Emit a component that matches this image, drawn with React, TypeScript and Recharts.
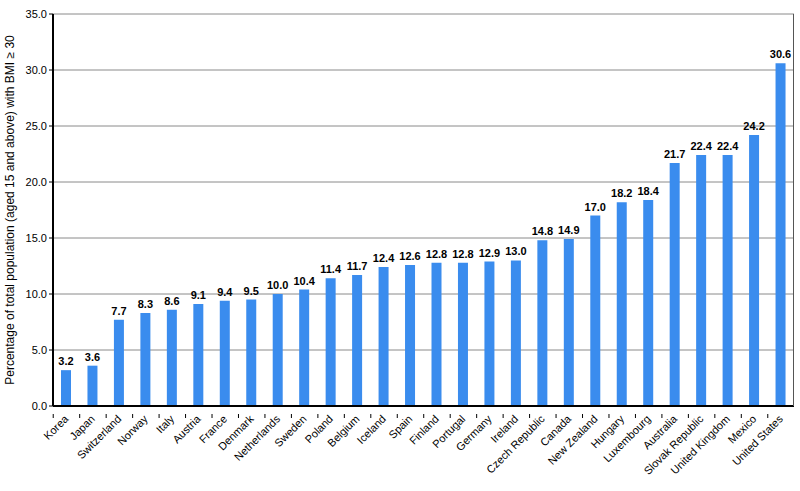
import { BarChart, Bar, XAxis, YAxis, CartesianGrid, LabelList } from "recharts";

const COUNTRIES = [
  "Korea", "Japan", "Switzerland", "Norway", "Italy", "Austria", "France",
  "Denmark", "Netherlands", "Sweden", "Poland", "Belgium", "Iceland", "Spain",
  "Finland", "Portugal", "Germany", "Ireland", "Czech Republic", "Canada",
  "New Zealand", "Hungary", "Luxembourg", "Australia", "Slovak Republic",
  "United Kingdom", "Mexico", "United States",
];

const OBESITY = [
  3.2, 3.6, 7.7, 8.3, 8.6, 9.1, 9.4, 9.5, 10.0, 10.4, 11.4, 11.7, 12.4, 12.6,
  12.8, 12.8, 12.9, 13.0, 14.8, 14.9, 17.0, 18.2, 18.4, 21.7, 22.4, 22.4, 24.2,
  30.6,
];

const Y_TICKS = [0, 5, 10, 15, 20, 25, 30, 35];

const Y_LABEL = "Percentage of total population (aged 15 and above) with BMI \u2265 30";

const FONT = "'Liberation Sans', Arial, sans-serif";
const BAR_COLOR = "#3a8cee";

const chartData = COUNTRIES.map((country, i) => ({ country, value: OBESITY[i] }));

function CountryTick(props: any) {
  const { x, y, payload } = props;
  return (
    <g transform={`translate(${x},${y})`}>
      <line x1={-13} y1={0} x2={-13} y2={4} stroke="#000" />
      <text
        x={-2}
        y={6}
        textAnchor="end"
        transform="rotate(-45)"
        fontSize={11}
        fontFamily={FONT}
        fill="#000"
      >
        {payload.value}
      </text>
    </g>
  );
}

export default function App() {
  return (
    <div style={{ position: "absolute", left: 0, top: 0, background: "#fff" }}>
      <BarChart
        width={800}
        height={491}
        data={chartData}
        margin={{ top: 14, right: 6, left: 0, bottom: 0 }}
        barCategoryGap={0}
      >
        <CartesianGrid vertical={false} stroke="#8a8a8a" />
        <XAxis
          dataKey="country"
          interval={0}
          height={85}
          tick={<CountryTick />}
          tickLine={false}
          axisLine={{ stroke: "#000", strokeWidth: 2 }}
        />
        <YAxis
          width={53}
          domain={[0, 35]}
          ticks={Y_TICKS}
          tickFormatter={(v) => Number(v).toFixed(1)}
          tick={{ fontSize: 11, fill: "#000", fontFamily: FONT }}
          tickSize={4}
          tickLine={{ stroke: "#000" }}
          axisLine={{ stroke: "#000", strokeWidth: 2 }}
          label={{
            value: Y_LABEL,
            angle: -90,
            position: "insideLeft",
            offset: 10,
            textAnchor: "middle",
            style: { fontSize: 12, fill: "#000", fontFamily: FONT, textAnchor: "middle" },
          }}
        />
        <Bar dataKey="value" fill={BAR_COLOR} barSize={10} isAnimationActive={false}>
          <LabelList
            dataKey="value"
            position="top"
            offset={5}
            formatter={(v: any) => Number(v).toFixed(1)}
            style={{ fontSize: 11, fontWeight: "bold", fill: "#000", fontFamily: FONT }}
          />
        </Bar>
      </BarChart>
      <div
        style={{
          position: "absolute",
          left: 793,
          top: 14,
          width: 1,
          height: 392,
          background: "#555",
        }}
      />
    </div>
  );
}
